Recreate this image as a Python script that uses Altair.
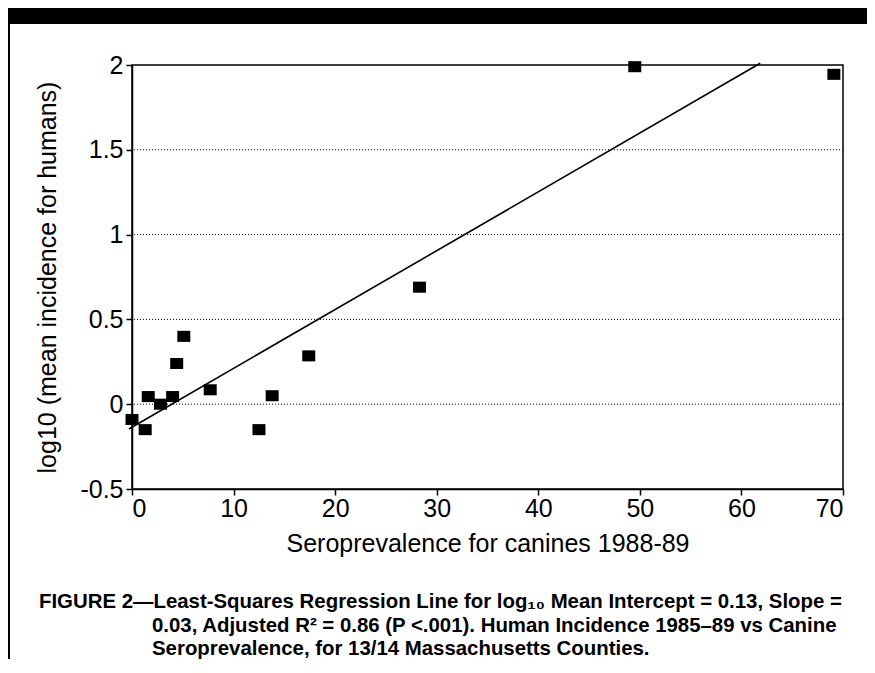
import altair as alt
import pandas as pd

# ---- data ----
seroprevalence = [0.0, 1.3, 1.6, 2.8, 4.0, 4.4, 5.1, 7.7, 12.5, 13.8, 17.4, 28.3, 49.5, 69.1]
log_incidence = [-0.09, -0.15, 0.045, 0.0, 0.045, 0.24, 0.40, 0.085, -0.15, 0.05, 0.285, 0.69, 1.99, 1.945]
fit_x = [-0.3, 61.85]
fit_y = [-0.146, 2.01]
x_ticks = [0, 10, 20, 30, 40, 50, 60, 70]
y_ticks = [-0.5, 0, 0.5, 1, 1.5, 2]
grid_levels = [0, 0.5, 1, 1.5]
x_title = "Seroprevalence for canines 1988-89"
y_title = "log10 (mean incidence for humans)"
caption_lines = [
    "FIGURE 2\u2014Least-Squares Regression Line for log\u2081\u2080 Mean Intercept = 0.13, Slope =",
    "0.03, Adjusted R\u00b2 = 0.86 (P <.001). Human Incidence 1985\u201389 vs Canine",
    "Seroprevalence, for 13/14 Massachusetts Counties.",
]

FONT = "Liberation Sans"
CAP_FONT = "Liberation Sans"

points_df = pd.DataFrame({"x": seroprevalence, "y": log_incidence})
fit_df = pd.DataFrame({"x": fit_x, "y": fit_y})
grid_df = pd.DataFrame({"y": grid_levels})
one = pd.DataFrame({"a": [0]})

xscale = alt.Scale(domain=[0, 70], nice=False, zero=False)
yscale = alt.Scale(domain=[-0.5, 2], nice=False, zero=False)

x_axis = alt.Axis(
    values=x_ticks, title=x_title, grid=False,
    domainColor="black", domainWidth=1.5, tickColor="black", tickWidth=1.5, tickSize=6,
    labelFont=FONT, labelFontSize=25, labelColor="black", labelPadding=1,
    titleFont=FONT, titleFontSize=25, titleFontWeight="normal", titleColor="black",
    titlePadding=10, labelExpr="'' + datum.value",
)
y_axis = alt.Axis(
    values=y_ticks, title=y_title, grid=False,
    domainColor="black", domainWidth=1.5, tickColor="black", tickWidth=1.5, tickSize=6,
    labelFont=FONT, labelFontSize=25, labelColor="black", labelPadding=3,
    titleFont=FONT, titleFontSize=25, titleFontWeight="normal", titleColor="black",
    titlePadding=19, labelExpr="'' + datum.value",
)

pts = alt.Chart(points_df).mark_point(
    shape="M-1,-0.85H1V0.85H-1Z", filled=True, color="black", opacity=1, size=169
).encode(
    x=alt.X("x:Q", scale=xscale, axis=x_axis),
    y=alt.Y("y:Q", scale=yscale, axis=y_axis),
)

grid = alt.Chart(grid_df).mark_rule(color="black", strokeDash=[1, 2], strokeWidth=1).encode(
    y=alt.Y("y:Q", scale=yscale, axis=y_axis)
)

fit = alt.Chart(fit_df).mark_line(color="black", strokeWidth=1.6).encode(
    x=alt.X("x:Q", scale=xscale, axis=x_axis),
    y=alt.Y("y:Q", scale=yscale, axis=y_axis),
)

top_bar = alt.Chart(one).mark_rect(color="black").encode(
    x=alt.value(-124), x2=alt.value(743), y=alt.value(-57), y2=alt.value(-41)
)
left_line = alt.Chart(one).mark_rule(color="black", strokeWidth=3).encode(
    x=alt.value(-123.5), y=alt.value(-57), y2=alt.value(600)
)

caps = []
cap_x = [-93, 20, 20]
cap_y = [543, 567, 590]
for line, cx, cy in zip(caption_lines, cap_x, cap_y):
    caps.append(
        alt.Chart(one).mark_text(
            align="left", baseline="alphabetic", font=CAP_FONT, fontSize=20.4,
            fontWeight="bold", color="black"
        ).encode(x=alt.value(cx), y=alt.value(cy), text=alt.value(line))
    )

chart = alt.layer(pts, grid, fit, top_bar, left_line, *caps).properties(
    width=711, height=424,
    autosize=alt.AutoSizeParams(type="none"),
    padding={"left": 124, "top": 57, "right": 24, "bottom": 170},
    background="white",
).configure_view(stroke="black", strokeWidth=1.5)

chart.save("out.html", embed_options={"renderer": "svg", "actions": False})
